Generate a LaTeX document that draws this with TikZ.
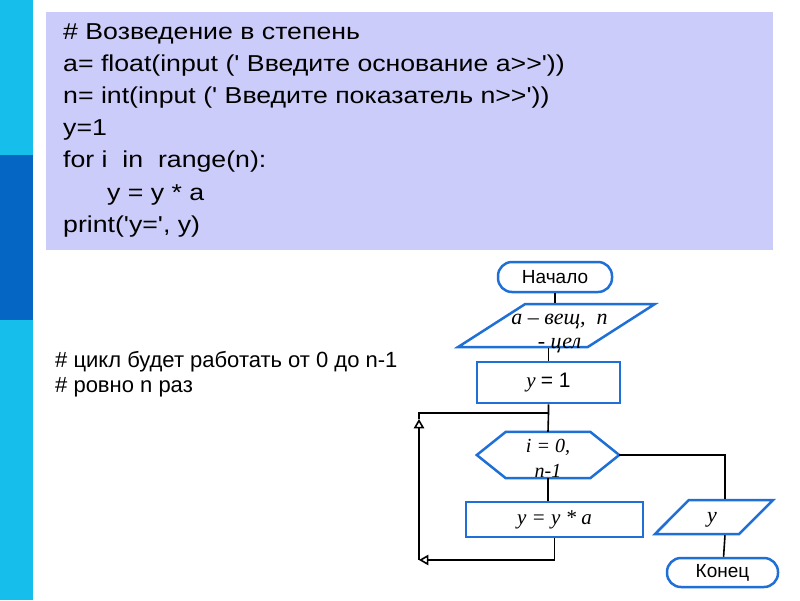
\documentclass[tikz,border=0pt]{standalone}
\usepackage{fontspec}
\setmainfont{Liberation Sans}
\newfontfamily\codefont{Liberation Sans}[FakeStretch=1.16]
\newfontfamily\serifit{Liberation Serif}
\usetikzlibrary{arrows, shapes, positioning, calc}
\definecolor{stripblue}{RGB}{22,190,236}
\definecolor{darkstrip}{RGB}{6,102,196}
\definecolor{panelblue}{RGB}{204,204,250}
\definecolor{flowblue}{RGB}{30,112,214}
\tikzset{
   codeline/.style={anchor=base west, inner sep=0pt, font=\fontsize{23}{26}\selectfont\codefont},
   noteline/.style={anchor=base west, inner sep=0pt, font=\fontsize{22}{26}\selectfont},
   myterm/.style={draw=flowblue, line width=2.5pt, rounded corners=14pt, minimum height=30pt, minimum width=114pt, font=\fontsize{19}{22}\selectfont},
   mydata/.style={trapezium, trapezium stretches=true, draw=flowblue, line width=2.5pt, inner sep=2pt},
   myproc/.style={draw=flowblue, line width=2.5pt, inner sep=0pt, font=\fontsize{21}{24}\selectfont\serifit\itshape},
   myloop/.style={draw=none, minimum width=142pt, minimum height=46pt, inner sep=0pt},
   mytext/.style={inner sep=0pt, font=\fontsize{22}{24}\selectfont\serifit\itshape},
   myline/.style={line width=1.6pt, black}
}
\begin{document}
\begin{tikzpicture}[x=1pt,y=-1pt]
      \useasboundingbox (0,0) rectangle (800,600);
      \fill[white] (0,0) rectangle (800,600);
      \fill[stripblue] (0,0) rectangle (33,600);
      \fill[darkstrip] (0,155) rectangle (33,320);
      \fill[panelblue] (46,12) rectangle (773,250);
      % program text
      \foreach \tx [count=\i] in {{\# Возведение в степень},
            {a= float(input (' Введите основание a>>'))},
            {n= int(input (' Введите показатель n>>'))},
            {y=1},
            {for i~ in~ range(n):},
            {\hspace*{44pt}y = y * a},
            {print('y=', y)}}
         \node[codeline] (code-\i) at (63,{39+32.2*(\i-1)}) {\tx};
      \node[noteline] (note-1) at (55,367.5) {\# цикл будет работать от 0 до n-1};
      \node[noteline] (note-2) at (55,392.5) {\# ровно n раз};
      % flowchart
      \node[myterm] (start) at (555,277) {Начало};
      \node[mydata, trapezium left angle=43, trapezium right angle=137, minimum width=197pt, minimum height=43pt] (in1) at (556.5,325.5) {};
      \node[mytext, align=center] (in1-text) at ([xshift=3pt,yshift=-7.5pt]in1.center) {a – вещ,\ \ n\\- цел};
      \node[myproc, minimum width=143pt, minimum height=41pt] (init) at (548.5,382.5) {y {\normalfont= 1}};
      \node[myloop] (loop) at (548,455) {};
      \draw[flowblue, line width=2.5pt, line join=miter] (loop.west) -- ([xshift=29pt]loop.north west) -- ([xshift=-29pt]loop.north east)
         -- (loop.east) -- ([xshift=-29pt]loop.south east) -- ([xshift=29pt]loop.south west) -- cycle;
      \node[mytext, align=center, font=\fontsize{20}{25}\selectfont\serifit\itshape] (loop-text) at ([yshift=-3pt]loop.center) {i = 0,\\n-1};
      \node[myproc, minimum width=177pt, minimum height=35pt] (body) at (554.5,519.5) {y = y * a};
      \node[mydata, trapezium left angle=56, trapezium right angle=124, minimum width=118pt, minimum height=34pt] (out) at (714,517) {};
      \node[mytext] (out-text) at (712,520) {y};
      \node[myterm, minimum width=111pt, minimum height=29pt] (stop) at (722.5,572.5) {Конец};
      \coordinate (j) at (548.5,413);
      \coordinate (top) at (419,413);
      \coordinate (back) at (419,560);
      \draw[myline] (start) -- (start |- in1.north);
      \draw[myline] (in1.south -| init) -- (init);
      \draw[myline] (init) -- (j) -- (loop.north);
      \draw[myline] (loop.south) -- (loop.south |- body.north);
      \draw[myline, -open triangle 60] (body.south) |- (back);
      \draw[myline, -open triangle 60] (back) -- ([yshift=-6pt]top);
      \draw[myline] ([yshift=-6pt]top) -- (top) -- (j);
      \draw[myline] (loop.east) -| ([xshift=11pt]out.north);
      \draw[myline] ([xshift=11pt]out.south) -- (stop);
\end{tikzpicture}
\end{document}
